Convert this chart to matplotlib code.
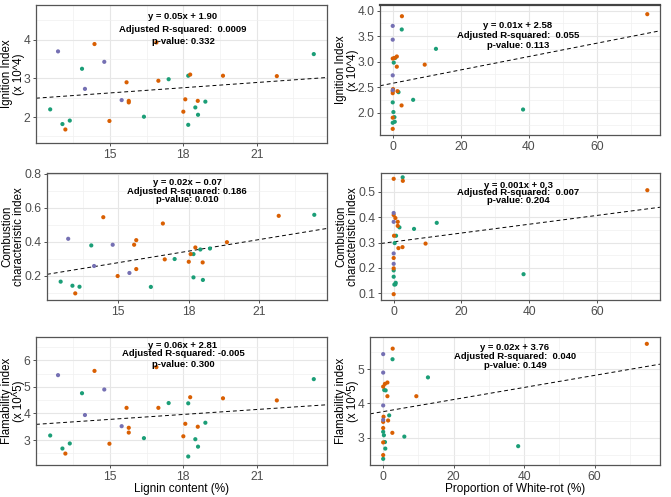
import matplotlib
matplotlib.use("Agg")
import matplotlib.pyplot as plt
import numpy as np
from matplotlib.ticker import FixedLocator

# ---------------- data (one entry per sample) ----------------
group = ["g"] * 12 + ["o"] * 14 + ["p"] * 4
lignin = [12.56, 13.06, 13.36, 13.86, 16.39, 17.40, 18.20, 18.20, 18.49, 18.60, 18.90, 23.33,
          13.18, 14.37, 14.98, 15.68, 15.77, 15.77, 16.90, 16.98, 18.00, 18.08, 18.28, 18.59, 19.62, 21.82,
          12.88, 13.98, 14.77, 15.48]
white_rot = [0.0, 0.6, 0.5, 12.7, 0.2, 0.3, 0.7, 0.0, 6.0, 38.3, 1.7, 2.65,
             0.0, 2.7, 0.0, 1.2, 0.0, 0.0, 74.8, 9.4, 2.6, 0.1, 1.2, 1.4, 0.5, 0.0,
             0.0, 0.0, 0.0, 0.0]
ignition = [2.20, 1.82, 1.91, 3.25, 2.01, 2.98, 3.07, 1.80, 2.25, 2.06, 2.40, 3.63,
            1.68, 3.89, 1.90, 2.90, 2.38, 2.42, 3.93, 2.94, 2.14, 2.46, 3.10, 2.42, 3.07, 3.06,
            3.70, 2.73, 3.43, 2.44]
combustion = [0.165, 0.141, 0.135, 0.378, 0.134, 0.298, 0.327, 0.190, 0.354, 0.175, 0.360, 0.558,
              0.096, 0.544, 0.198, 0.382, 0.409, 0.239, 0.507, 0.296, 0.282, 0.327, 0.366, 0.278, 0.397, 0.552,
              0.417, 0.257, 0.382, 0.216]
flammability = [3.17, 2.68, 2.87, 4.76, 3.07, 4.39, 4.38, 2.38, 3.03, 2.75, 3.65, 5.29,
                2.49, 5.60, 2.86, 4.21, 3.46, 3.28, 5.74, 4.21, 3.14, 3.61, 4.61, 3.50, 4.57, 4.49,
                5.44, 3.94, 4.90, 3.52]

# regression lines (slope, intercept)
fit_slope = {"ign_l": 0.045, "ign_w": 0.0131, "comb_l": 0.0227, "comb_w": 0.00174,
             "flam_l": 0.062, "flam_w": 0.01765}
fit_inter = {"ign_l": 1.95, "ign_w": 2.575, "comb_l": -0.064, "comb_w": 0.303,
             "flam_l": 2.846, "flam_w": 3.76}

labels = {
    "ign_l": ["y = 0.05x + 1.90", "Adjusted R-squared:  0.0009", "p-value: 0.332"],
    "ign_w": ["y = 0.01x + 2.58", "Adjusted R-squared:  0.055", "p-value: 0.113"],
    "comb_l": ["y = 0.02x \u2212 0.07", "Adjusted R-squared: 0.186", "p-value: 0.010"],
    "comb_w": ["y = 0.001x + 0.3", "Adjusted R-squared:  0.007", "p-value: 0.204"],
    "flam_l": ["y = 0.06x + 2.81", "Adjusted R-squared: -0.005", "p-value: 0.300"],
    "flam_w": ["y = 0.02x + 3.76", "Adjusted R-squared:  0.040", "p-value: 0.149"],
}

palette = {"g": "#1B9E77", "o": "#D95F02", "p": "#7570B3"}

W, H = 671, 497
fig = plt.figure(figsize=(W / 100, H / 100), dpi=100)
fig.patch.set_facecolor("white")


def add_ax(l, r, t, b):
    return fig.add_axes([l / W, 1 - b / H, (r - l) / W, (b - t) / H])


panels = [
    ("ign_l", lignin, ignition, (36, 327, 5, 143), (11.98, 23.87), (1.33, 4.90),
     [2, 3, 4], 1.0, ["Ignition Index", "(x 10^4)"], 13, (16.7, 29, 41.7), 183, None),
    ("ign_w", white_rot, ignition, (380, 660, 5, 135), (-3.74, 78.54), (1.56, 4.11),
     [2.0, 2.5, 3.0, 3.5, 4.0], 0.5, ["Ignition Index", "(x 10^4)"], 347, (26, 36, 46), 518, None),
    ("comb_l", lignin, combustion, (47, 327, 173, 300), (11.98, 23.87), (0.057, 0.804),
     [0.2, 0.4, 0.6, 0.8], 0.2, ["Combustion", "characteristic index"], 13, (182.3, 191, 199.5), 187, None),
    ("comb_w", white_rot, combustion, (381, 660, 173, 300), (-3.74, 78.54), (0.073, 0.575),
     [0.1, 0.2, 0.3, 0.4, 0.5], 0.1, ["Combustion", "characteristic index"], 347, (185, 192.7, 200.7), 518, None),
    ("flam_l", lignin, flammability, (36, 327, 337, 465), (11.98, 23.87), (2.06, 6.875),
     [3, 4, 5, 6], 1.0, ["Flamability index", "(x 10^5)"], 13, (345, 353.5, 364.3), 183, "Lignin content (%)"),
    ("flam_w", white_rot, flammability, (370, 660, 337, 465), (-3.74, 78.54), (2.20, 5.94),
     [3, 4, 5], 1.0, ["Flamability index", "(x 10^5)"], 347, (348, 356.5, 365), 515, "Proportion of White-rot (%)"),
]

narrow = ["Liberation Sans Narrow", "Liberation Sans", "DejaVu Sans"]
sans = ["Liberation Sans", "DejaVu Sans"]

for (key, xs, ys, box, xlim, ylim, yticks, ymaj, ylab, ylx, tys, tx, xlab) in panels:
    l, r, t, b = box
    ax = add_ax(l, r, t, b)
    ax.set_xlim(*xlim)
    ax.set_ylim(*ylim)
    ax.set_facecolor("white")
    if xlim[0] > 0:
        xt = [15, 18, 21]
        xminor = [12, 13.5, 16.5, 19.5, 22.5]
    else:
        xt = [0, 20, 40, 60]
        xminor = [10, 30, 50, 70]
    ax.xaxis.set_major_locator(FixedLocator(xt))
    ax.xaxis.set_minor_locator(FixedLocator(xminor))
    ax.yaxis.set_major_locator(FixedLocator(yticks))
    ymin_ticks = [v + ymaj / 2 for v in [yticks[0] - ymaj] + yticks]
    ax.yaxis.set_minor_locator(FixedLocator(ymin_ticks))
    ax.set_xticklabels([str(v) for v in xt])
    if ymaj < 1:
        ax.set_yticklabels([f"{v:.1f}" for v in yticks])
    else:
        ax.set_yticklabels([str(int(v)) for v in yticks])
    ax.grid(which="major", color="#E6E6E6", linewidth=0.8)
    ax.grid(which="minor", color="#F0F0F0", linewidth=0.5)
    ax.set_axisbelow(True)
    ax.tick_params(which="major", length=2.5, width=0.6, color="#333333",
                   labelsize=8.7, labelcolor="#4D4D4D", pad=1.5)
    ax.tick_params(which="minor", length=0)
    for lab in ax.get_xticklabels() + ax.get_yticklabels():
        lab.set_family(sans)
    for s in ax.spines.values():
        s.set_color("#555555")
        s.set_linewidth(0.9)
    if key == "ign_w":
        ax.spines["top"].set_linewidth(1.6)
        ax.spines["top"].set_color("#444444")

    # regression line
    xx = np.array(xlim)
    ax.plot(xx, fit_slope[key] * xx + fit_inter[key], color="black", linewidth=0.7,
            linestyle=(0, (4, 3)), zorder=2)

    # points
    cols = [palette[g] for g in group]
    ax.scatter(xs, ys, s=9, c=cols, linewidths=0, zorder=3)

    # annotation text
    for line, ty in zip(labels[key], tys):
        fig.text(tx / W, 1 - ty / H, line, ha="center", va="center", fontsize=6.8,
                 family=narrow, weight="bold", color="black")

    # y label
    cy = 1 - ((t + b) / 2) / H
    fig.text(ylx / W, cy, "\n".join(ylab), rotation=90, ha="center", va="center",
             fontsize=8.3, family=sans, color="black", linespacing=1.0)

    if xlab:
        fig.text(((l + r) / 2) / W, 1 - 489 / H, xlab, ha="center", va="center",
                 fontsize=8.5, family=sans, color="black")

fig.savefig("out.png", dpi=100, facecolor="white")
